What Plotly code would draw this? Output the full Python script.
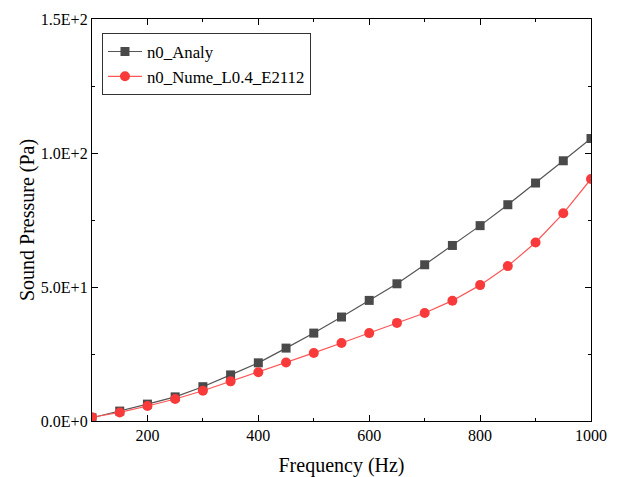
import plotly.graph_objects as go

freq = [100, 150, 200, 250, 300, 350, 400, 450, 500, 550, 600, 650, 700, 750, 800, 850, 900, 950, 1000]
analy = [1.2, 3.7, 6.3, 9.0, 12.8, 17.2, 21.7, 27.2, 32.8, 38.8, 45.0, 51.2, 58.3, 65.5, 72.9, 80.7, 88.8, 97.1, 105.4]
nume = [1.4, 3.2, 5.6, 8.2, 11.3, 14.8, 18.2, 21.8, 25.4, 29.1, 32.8, 36.6, 40.3, 44.9, 50.7, 57.8, 66.6, 77.5, 90.3]

y_tickvals = [0, 50, 100, 150]
y_ticktext = ["0.0E+0", "5.0E+1", "1.0E+2", "1.5E+2"]
x_tickvals = [200, 400, 600, 800, 1000]
x_ticktext = ["200", "400", "600", "800", "1000"]

font_family = "Times New Roman, Liberation Serif, DejaVu Serif, serif"

fig = go.Figure()
fig.add_trace(go.Scatter(
    x=freq, y=analy, mode="lines+markers", name="n0_Analy",
    line=dict(color="#555555", width=1.2),
    marker=dict(symbol="square", size=9, color="#4a4a4a"),
))
fig.add_trace(go.Scatter(
    x=freq, y=nume, mode="lines+markers", name="n0_Nume_L0.4_E2112",
    line=dict(color="#ff5555", width=1.2),
    marker=dict(symbol="circle", size=10, color="#f83a3a"),
))

axis_common = dict(
    showline=True, linecolor="black", linewidth=1.3, mirror="ticks",
    ticks="inside", ticklen=6, tickwidth=1.2, tickcolor="black",
    showgrid=False, zeroline=False, automargin=False,
    tickfont=dict(family=font_family, size=16, color="black"),
)

fig.update_xaxes(
    range=[100, 1000], tickvals=x_tickvals, ticktext=x_ticktext,
    title=dict(text="Frequency (Hz)", font=dict(family=font_family, size=20, color="black"), standoff=16),
    minor=dict(ticks="inside", ticklen=3, tickcolor="black", dtick=100, tick0=0, tickwidth=1),
    ticklabelstandoff=0,
    **axis_common,
)
fig.update_yaxes(
    range=[0, 150], tickvals=y_tickvals, ticktext=y_ticktext,
    title=dict(text="Sound Pressure (Pa)", font=dict(family=font_family, size=20, color="black"), standoff=0),
    minor=dict(ticks="inside", ticklen=3, tickcolor="black", dtick=25, tick0=0, tickwidth=1),
    ticklabelstandoff=0,
    **axis_common,
)

fig.update_layout(
    width=619, height=477,
    margin=dict(l=92, r=28, t=19, b=56),
    plot_bgcolor="white", paper_bgcolor="white",
    font=dict(family=font_family, size=16, color="black"),
    legend=dict(
        x=0.02, y=0.965, xanchor="left", yanchor="top",
        bordercolor="#333333", borderwidth=1, bgcolor="white",
        font=dict(family=font_family, size=16.8, color="black"),
        tracegroupgap=0, itemwidth=34,
    ),
    showlegend=True,
)

fig.write_html("out.html")
